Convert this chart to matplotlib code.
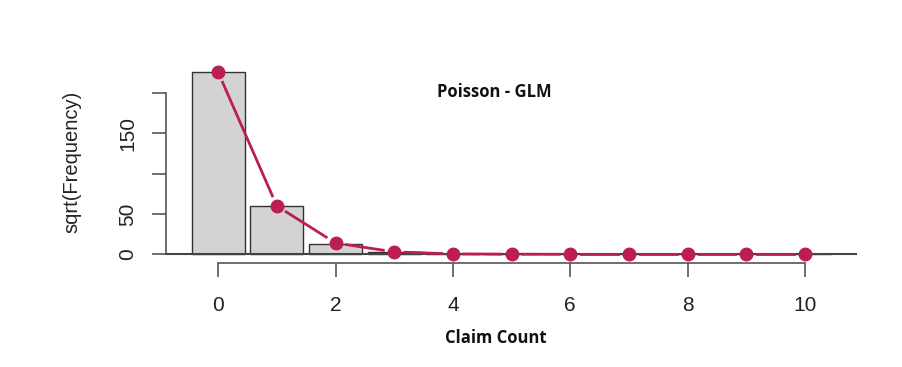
import matplotlib.pyplot as plt
import numpy as np

# rootogram data
counts = np.arange(0, 11)
observed = [226, 60, 12.5, 2.5, 0.4, 0, 0, 0, 0, 0, 0]
expected = [226, 60, 14, 3, 0.5, 0.1, 0, 0, 0, 0, 0]
yticks = [0, 50, 100, 150, 200]
ylabels = ["0", "50", "", "150", ""]
xticks = [0, 2, 4, 6, 8, 10]

plt.rcParams['font.family'] = ['Liberation Sans', 'DejaVu Sans']
axcol = '#555555'
red = '#BC1D54'

fig = plt.figure(figsize=(9.03, 3.67), dpi=100)
ax = fig.add_axes([0.184, 0.283, 0.765, 0.54])

ax.bar(counts, observed, width=0.9, color='#D3D3D3', edgecolor='#333333', linewidth=1.0, zorder=2)
ax.axhline(0, color='#444444', linewidth=1.5, zorder=3)

ax.set_xlim(-0.886, 10.886)
ax.set_ylim(-11, 235)

# R type="b": line segments stop short of the points
pts = ax.transData.transform(np.column_stack([counts, expected]))
gap = 11
inv = ax.transData.inverted()
for p0, p1 in zip(pts[:-1], pts[1:]):
    d = p1 - p0
    L = np.hypot(*d)
    if L <= 2 * gap:
        continue
    u = d / L
    a, b = inv.transform([p0 + u * gap, p1 - u * gap])
    ax.plot([a[0], b[0]], [a[1], b[1]], color=red, linewidth=2, zorder=4)
ax.plot(counts, expected, linestyle='none', color=red, marker='o', markersize=9, zorder=5)

for s in ['top', 'right']:
    ax.spines[s].set_visible(False)
ax.spines['left'].set_bounds(0, 200)
ax.spines['bottom'].set_bounds(0, 10)
for s in ['left', 'bottom']:
    ax.spines[s].set_color(axcol)
    ax.spines[s].set_linewidth(1.2)

ax.set_yticks(yticks)
ax.set_yticklabels(ylabels, rotation=90, va='center', fontsize=15)
ax.set_xticks(xticks)
ax.set_xticklabels([str(t) for t in xticks], fontsize=15)
ax.tick_params(colors=axcol, labelcolor='#222222', length=10, width=1.2)
ax.tick_params(axis='y', pad=11)
ax.tick_params(axis='x', pad=14)

fig.text(0.08, 0.56, "sqrt(Frequency)", rotation=90, ha='center', va='center',
         fontsize=14.5, color='#222222')
fig.text(0.547, 0.749, "Poisson - GLM", ha='center', va='center', fontsize=12,
         fontweight='bold', family=['Open Sans', 'DejaVu Sans'], color='#111111')
fig.text(0.549, 0.079, "Claim Count", ha='center', va='center', fontsize=12,
         fontweight='bold', family=['Open Sans', 'DejaVu Sans'], color='#111111')

fig.savefig('out.png', dpi=100)
